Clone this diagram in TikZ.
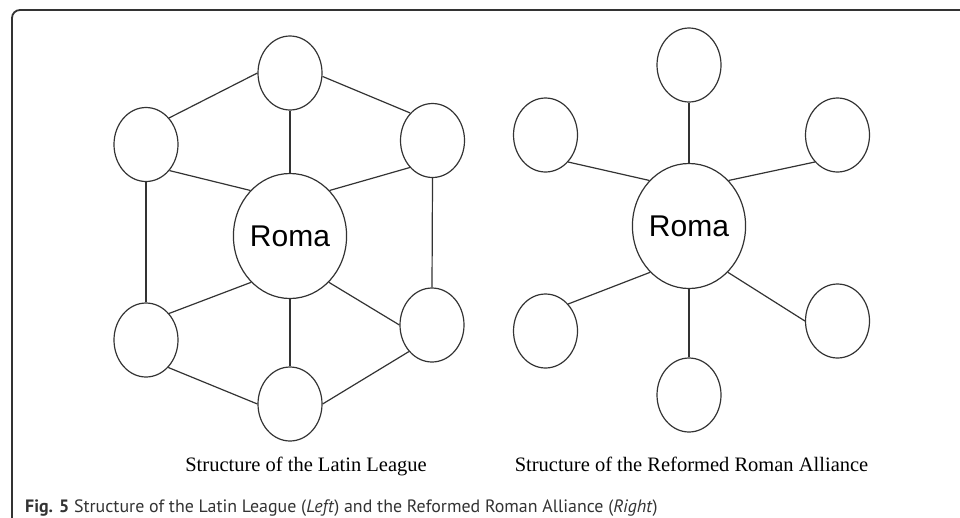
\documentclass[tikz,border=0pt]{standalone}
\usepackage{fontspec}
\setmainfont{Liberation Serif}
\newfontfamily\romafont{Liberation Sans}
\newfontfamily\figfont{PT Sans}
\usetikzlibrary{shapes.geometric,positioning}

\begin{document}
\begin{tikzpicture}[x=1pt,y=-1pt,on grid,
    city/.style={ellipse,draw=black!80,line width=1.2pt,inner sep=0pt,
                 minimum width=64pt,minimum height=74pt},
    roma/.style={city,minimum width=108pt,minimum height=125pt,
                 font=\romafont\fontsize{30}{31}\selectfont},
    every edge/.style={draw=black!80,line width=1.2pt}]
    \useasboundingbox (0,0) rectangle (960,517);
    \draw[black!80,line width=1.8pt,rounded corners=8pt] (12,540) -- (12,10) -- (980,10);

    % Latin League
    \node[roma] (roma_l) at (290,236) {Roma};
    \node[city] (l_top) [above=163pt of roma_l] {};
    \node[city] (l_ul)  [above left=91.5pt and 144pt of roma_l] {};
    \node[city] (l_ur)  [above right=95.5pt and 142.5pt of roma_l] {};
    \node[city] (l_ll)  [below left=104pt and 144pt of roma_l] {};
    \node[city] (l_lr)  [below right=89pt and 142pt of roma_l] {};
    \node[city] (l_bot) [below=168pt of roma_l] {};
    \path
    (l_top) edge (roma_l)
    (l_ul.49) edge (l_top.west)
    (l_ur.129) edge (l_top.-6)
    (l_ul.-48) edge (roma_l.131)
    (l_ur.230) edge (roma_l.49)
    (l_ul.south) edge (l_ll.north)
    (l_ur.south) edge (l_lr.north)
    (l_ll.49) edge (roma_l.230)
    (l_ll.-51) edge (l_bot.west)
    (l_lr.229) edge (l_bot.east)
    (l_lr.west) edge (roma_l.-50)
    (roma_l) edge (l_bot)
    ;

    % Reformed Roman Alliance
    \node[roma] (roma_r) at (689,226) {Roma};
    \node[city] (r_top) [above=161pt of roma_r] {};
    \node[city] (r_ul)  [above left=91pt and 143.5pt of roma_r] {};
    \node[city] (r_ur)  [above right=91pt and 148.5pt of roma_r] {};
    \node[city] (r_ll)  [below left=105pt and 143.5pt of roma_r] {};
    \node[city] (r_lr)  [below right=95pt and 148.5pt of roma_r] {};
    \node[city] (r_bot) [below=169pt of roma_r] {};
    \path
    (r_top) edge (roma_r)
    (r_ul.-50) edge (roma_r.131)
    (r_ur.230) edge (roma_r.49)
    (r_ll.50) edge (roma_r.230)
    (r_lr.west) edge (roma_r.-50)
    (roma_r) edge (r_bot)
    ;

    \node[anchor=base,inner sep=0pt,font=\fontsize{20.5}{24}\selectfont] (cap_l) at (306,471) {Structure of the Latin League};
    \node[anchor=base,inner sep=0pt,font=\fontsize{20.5}{24}\selectfont] (cap_r) at (691.5,471) {Structure of the Reformed Roman Alliance};
    \node[anchor=base west,inner sep=0pt,text=black!80,font=\figfont\fontsize{17.9}{20}\selectfont] (fig) at (25,512)
        {\textbf{Fig. 5} Structure of the Latin League (\textit{Left}) and the Reformed Roman Alliance (\textit{Right})};
\end{tikzpicture}
\end{document}
